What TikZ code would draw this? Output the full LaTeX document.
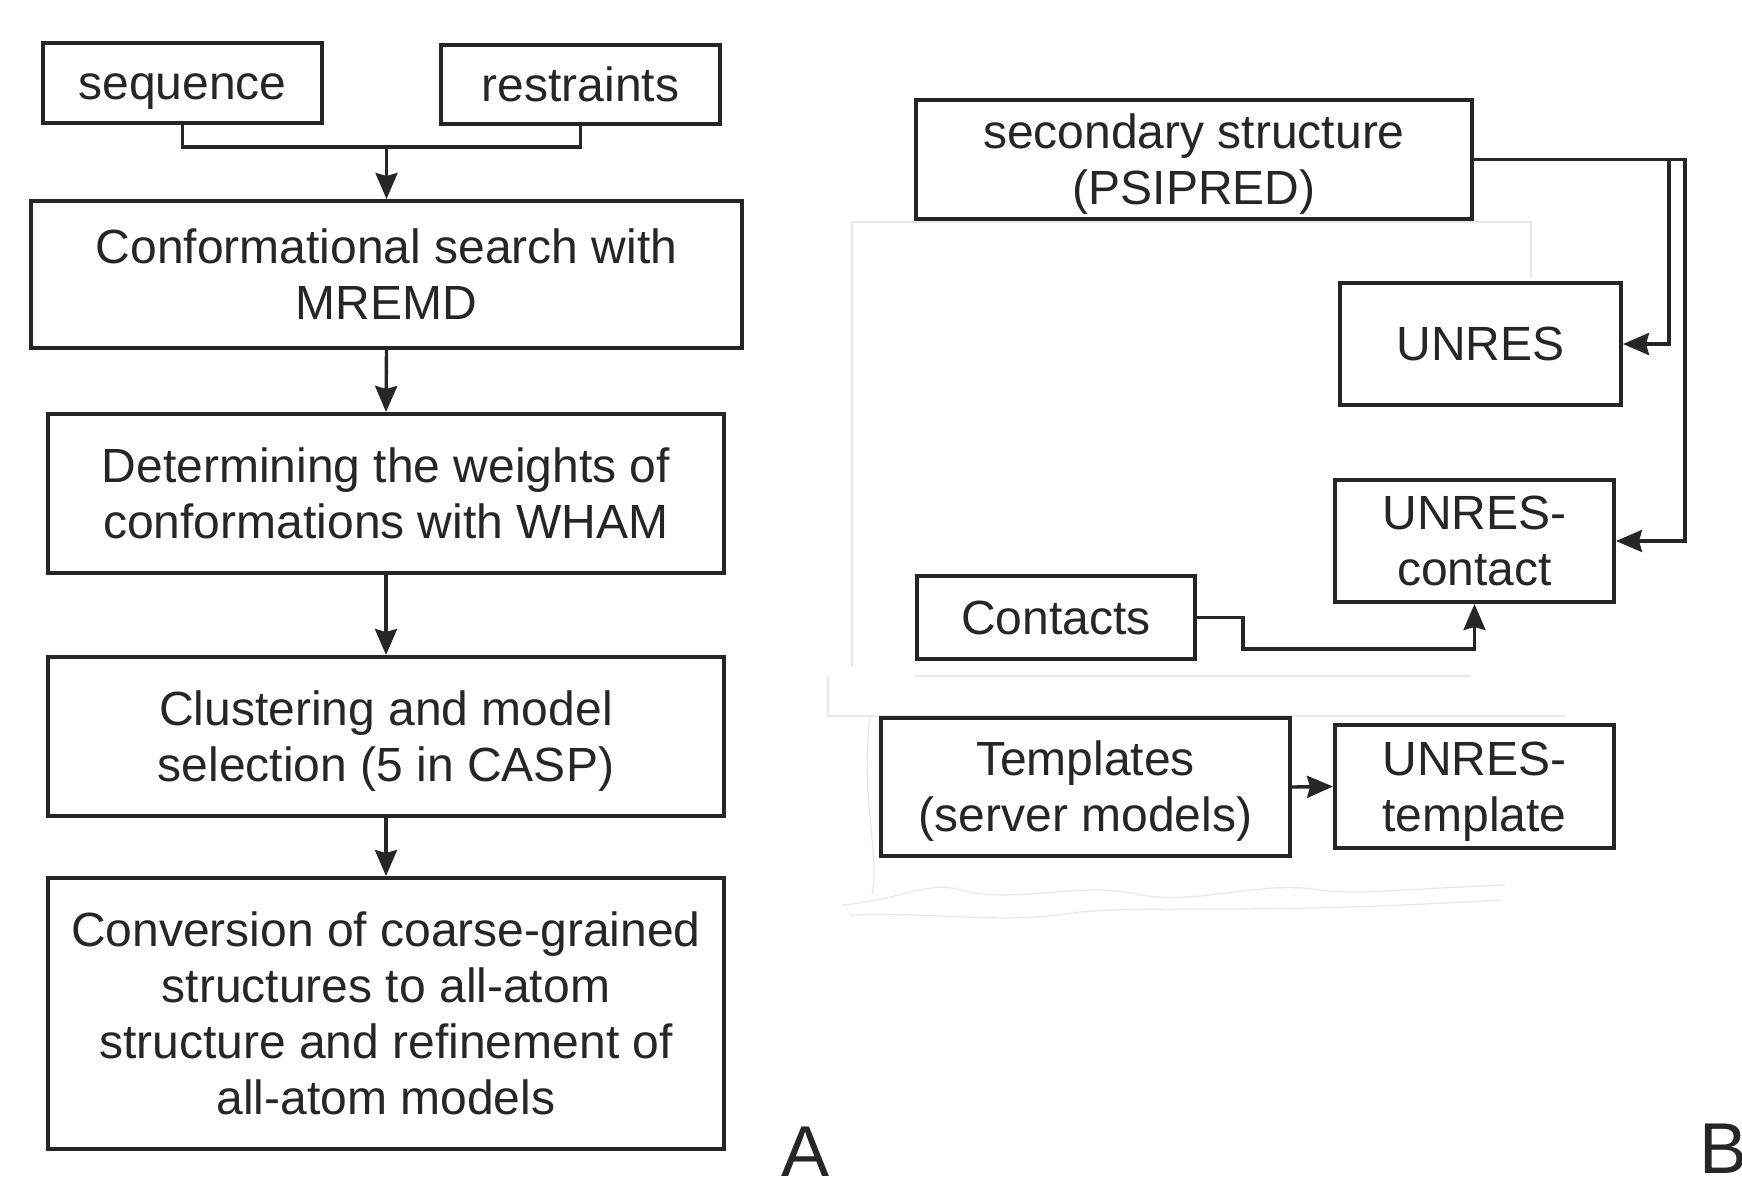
\documentclass[tikz,border=0pt]{standalone}
\usepackage{fontspec}
\setmainfont{Liberation Sans}
\usetikzlibrary{arrows.meta}
\newcommand\myrise[1]{\rule{0pt}{#1}}
\begin{document}
\begin{tikzpicture}[x=0.5pt,y=-0.5pt,
  box/.style={draw=black!85, line width=2pt, rectangle, inner sep=0pt, align=center,
    font=\fontsize{24}{28}\selectfont, text=black!85},
  sz/.style n args={2}{minimum width=#1*0.5pt, minimum height=#2*0.5pt},
  conn/.style={draw=black!85, line width=1.7pt},
  arr/.style={conn, -{Stealth[length=13pt, width=11pt, inset=1.5pt]}},
  faint/.style={draw=black!9, line width=0.6pt},
  panel/.style={font=\fontsize{36}{40}\selectfont, text=black!85, inner sep=0pt, anchor=base west}]
\useasboundingbox (0,0) rectangle (1742,1179);
\fill[white] (0,0) rectangle (1742,1179);

% faint remnants of an erased background
\draw[faint] (852,667) -- (852,222) -- (1531,222) -- (1531,278);
\draw[faint] (915,676) -- (1470,676);
\draw[faint] (828,676) -- (828,716) -- (1565,716);
\draw[faint] (870,716) .. controls (860,800) and (880,850) .. (872,895);
\draw[faint] (842,905) .. controls (900,900) and (930,880) .. (960,890)
  .. controls (1020,905) and (1080,880) .. (1140,895)
  .. controls (1200,905) and (1260,880) .. (1320,890)
  .. controls (1360,895) and (1380,890) .. (1505,885);
\draw[faint] (850,915) .. controls (950,912) and (1000,925) .. (1080,912)
  .. controls (1160,905) and (1250,915) .. (1500,900);

% Panel A
\node[box, sz={279}{80}] (seq) at (182.5,83) {\myrise{21.4pt}sequence};
\node[box, sz={279}{79}] (res) at (580.5,84.5) {restraints};
\node[box, sz={711}{147}] (conf) at (386.5,274.5) {Conformational search with\\MREMD};
\node[box, sz={676}{159}] (det) at (386,493.5) {Determining the weights of\\conformations with WHAM};
\node[box, sz={676}{159}] (clus) at (386,736.5) {\myrise{21.9pt}Clustering and model\\selection (5 in CASP)};
\node[box, sz={676}{271}] (conv) at (386,1013.5) {Conversion of coarse-grained\\structures to all-atom\\structure and refinement of\\all-atom models};

\coordinate (j) at (386.5,147);
\draw[conn] (seq.south) |- (res.south |- j) -- (res.south);
\draw[arr] (j) -- (conf.north);
\draw[arr] (conf.south) -- (det.north);
\draw[arr] (det.south) -- (clus.north);
\draw[arr] (clus.south) -- (conv.north);

% Panel B
\node[box, sz={556}{119}] (sec) at (1194,159.5) {\myrise{21.9pt}secondary structure\\(PSIPRED)};
\node[box, sz={281}{122}] (unres) at (1480.5,344) {UNRES};
\node[box, sz={279}{122}] (ucont) at (1474.5,541) {UNRES-\\contact};
\node[box, sz={278}{83}] (cont) at (1056,617.5) {Contacts};
\node[box, sz={409}{138}] (templ) at (1085.5,787) {\myrise{21.9pt}Templates\\(server models)};
\node[box, sz={279}{123}] (utempl) at (1474.5,786.5) {\myrise{21.6pt}UNRES-\\template};

\coordinate (v1) at (1669,0);
\coordinate (v2) at (1685,0);
\coordinate (k1) at (1243,0);
\coordinate (h1) at (0,649);
\draw[arr] (sec.east) -| (v1 |- unres.east) -- (unres.east);
\draw[arr] (sec.east) -| (v2 |- ucont.east) -- (ucont.east);
\draw[arr] (cont.east) -| (k1 |- h1) -| (ucont.south);
\draw[arr] (templ.east) -- (utempl.west);

\node[panel] (la) at (781,1176) {A};
\node[panel] (lb) at (1699,1173) {B};
\end{tikzpicture}
\end{document}
